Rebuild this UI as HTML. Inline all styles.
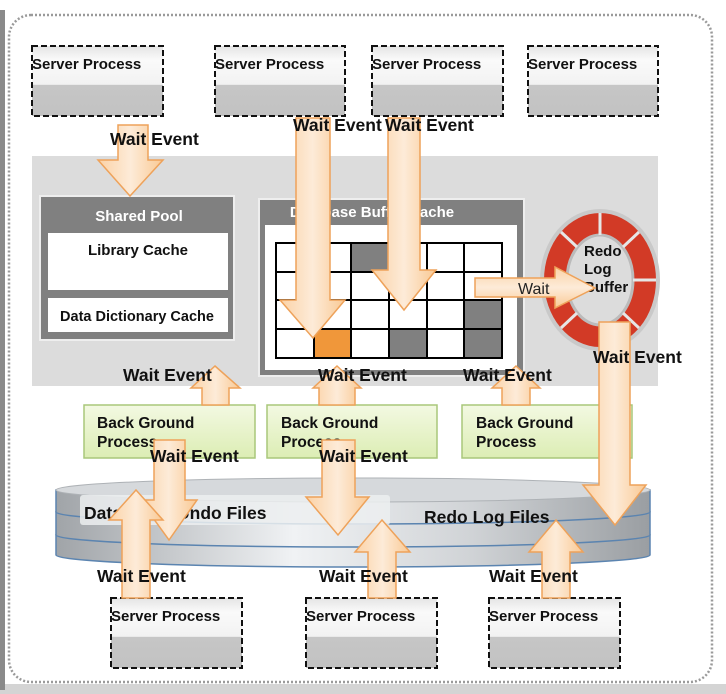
<!DOCTYPE html>
<html><head><meta charset="utf-8"><style>
html,body{margin:0;padding:0;background:#fff;}
svg{display:block;}
text{font-family:"Liberation Sans","Noto Sans CJK KR",sans-serif;}
.b{font-weight:bold;font-size:17.5px;fill:#111;}
.s{font-weight:bold;font-size:15px;fill:#111;}
</style></head><body>
<svg width="726" height="694" viewBox="0 0 726 694" xmlns="http://www.w3.org/2000/svg">
<defs>
<linearGradient id="sp" x1="0" y1="0" x2="0" y2="1">
<stop offset="0" stop-color="#e4e4e4"/><stop offset="0.2" stop-color="#fafafa"/><stop offset="0.55" stop-color="#f2f2f2"/><stop offset="0.56" stop-color="#c6c6c6"/><stop offset="1" stop-color="#c2c2c2"/></linearGradient>
<linearGradient id="ar" x1="0" y1="0" x2="1" y2="0">
<stop offset="0" stop-color="#fbd2a6"/><stop offset="0.5" stop-color="#fdebd8"/><stop offset="1" stop-color="#f9c994"/></linearGradient>
<linearGradient id="ar2" x1="0" y1="0" x2="0" y2="1">
<stop offset="0" stop-color="#fbd2a6"/><stop offset="0.5" stop-color="#fdebd8"/><stop offset="1" stop-color="#f9c994"/></linearGradient>
<linearGradient id="dkh" x1="0" y1="0" x2="1" y2="0">
<stop offset="0" stop-color="#a0a4a8"/><stop offset="0.4" stop-color="#f0f2f4"/><stop offset="0.7" stop-color="#d0d3d6"/><stop offset="1" stop-color="#9a9ea2"/></linearGradient>
<linearGradient id="bg" x1="0" y1="0" x2="0" y2="1">
<stop offset="0" stop-color="#f3f9e2"/><stop offset="1" stop-color="#dcedb4"/></linearGradient>
</defs>
<rect x="0" y="0" width="726" height="694" fill="#fff"/>
<rect x="0" y="684" width="726" height="10" fill="#d4d4d4"/>
<rect x="0" y="10" width="5" height="680" fill="#8a8a8a"/>
<rect x="9" y="15" width="703" height="667" rx="22" fill="none" stroke="#9a9a9a" stroke-width="2.5" stroke-dasharray="2 2"/>

<g stroke="#111" stroke-width="2" stroke-dasharray="6 3">
<rect x="32" y="46" width="131" height="70" fill="url(#sp)"/>
<rect x="215" y="46" width="130" height="70" fill="url(#sp)"/>
<rect x="372" y="46" width="131" height="70" fill="url(#sp)"/>
<rect x="528" y="46" width="130" height="70" fill="url(#sp)"/>
</g>
<text class="s" x="32" y="69">Server Process</text>
<text class="s" x="215" y="69">Server Process</text>
<text class="s" x="372" y="69">Server Process</text>
<text class="s" x="528" y="69">Server Process</text>

<rect x="32" y="156" width="626" height="230" fill="#dcdcdc"/>
<rect x="40" y="196" width="194" height="144" fill="#808080" stroke="#eee" stroke-width="2"/>
<text x="139" y="221" text-anchor="middle" font-weight="bold" font-size="15" fill="#fff">Shared Pool</text>
<rect x="48" y="233" width="180" height="57" fill="#fff"/>
<text x="138" y="255" text-anchor="middle" font-weight="bold" font-size="15" fill="#111">Library Cache</text>
<rect x="48" y="298" width="180" height="34" fill="#fff"/>
<text x="137" y="321" text-anchor="middle" font-weight="bold" font-size="14.5" fill="#111">Data Dictionary Cache</text>

<rect x="259" y="199" width="265" height="177" fill="#808080" stroke="#eee" stroke-width="2"/>
<text x="372" y="217" text-anchor="middle" font-weight="bold" font-size="15" fill="#fff">Database Buffer Cache</text>
<rect x="265" y="225" width="252" height="145" fill="#fff"/>
<rect x="351" y="243" width="38" height="29" fill="#808080"/>
<rect x="464" y="300" width="38" height="29" fill="#808080"/>
<rect x="389" y="329" width="38" height="29" fill="#808080"/>
<rect x="464" y="329" width="38" height="29" fill="#808080"/>
<rect x="314" y="329" width="37" height="29" fill="#f0973a"/>
<g stroke="#000" stroke-width="2" fill="none">
<rect x="276" y="243" width="226" height="115"/>
<line x1="314" y1="243" x2="314" y2="358"/><line x1="351" y1="243" x2="351" y2="358"/>
<line x1="389" y1="243" x2="389" y2="358"/><line x1="427" y1="243" x2="427" y2="358"/>
<line x1="464" y1="243" x2="464" y2="358"/>
<line x1="276" y1="272" x2="502" y2="272"/><line x1="276" y1="300" x2="502" y2="300"/>
<line x1="276" y1="329" x2="502" y2="329"/>
</g>

<ellipse cx="600" cy="280" rx="60" ry="71" fill="#c9c9c9"/>
<ellipse cx="600" cy="280" rx="56" ry="67" fill="#d23a26"/>
<ellipse cx="600" cy="280" rx="33" ry="45" fill="#dcdcdc" stroke="#bbb" stroke-width="3"/>
<g stroke="#e6e6e6" stroke-width="3">
<line x1="600" y1="213" x2="600" y2="235"/><line x1="600" y1="325" x2="600" y2="347"/>
<line x1="544" y1="280" x2="567" y2="280"/><line x1="633" y1="280" x2="656" y2="280"/>
<line x1="561" y1="232" x2="577" y2="247"/><line x1="639" y1="232" x2="623" y2="247"/>
<line x1="561" y1="328" x2="577" y2="313"/><line x1="639" y1="328" x2="623" y2="313"/>
</g>
<text x="584" y="256" font-weight="bold" font-size="15" fill="#111">Redo</text>
<text x="584" y="274" font-weight="bold" font-size="15" fill="#111">Log</text>
<text x="584" y="292" font-weight="bold" font-size="15" fill="#111">Buffer</text>

<g stroke="#a9c77a" stroke-width="1.5" fill="url(#bg)">
<rect x="84" y="405" width="171" height="53"/>
<rect x="267" y="405" width="170" height="53"/>
<rect x="462" y="405" width="170" height="53"/>
</g>
<g font-weight="bold" font-size="15.5" fill="#111">
<text x="97" y="428">Back Ground</text><text x="97" y="447">Process</text>
<text x="281" y="428">Back Ground</text><text x="281" y="447">Process</text>
<text x="476" y="428">Back Ground</text><text x="476" y="447">Process</text>
</g>

<g stroke="#5b84b0" stroke-width="1.5">
<path d="M56 535 L56 555 A297 12 0 0 0 650 555 L650 535 Z" fill="url(#dkh)"/>
<path d="M56 512 L56 535 A297 12 0 0 0 650 535 L650 512 Z" fill="url(#dkh)"/>
<path d="M56 490 L56 512 A297 12 0 0 0 650 512 L650 490 Z" fill="url(#dkh)"/>
</g>
<ellipse cx="353" cy="490" rx="297" ry="12" fill="#d6d9dc" stroke="#aeb2b6"/>
<rect x="80" y="495" width="310" height="30" rx="3" fill="#eceef0" opacity="0.85"/>
<text class="b" x="84" y="519">Data/Temp/Undo Files</text>
<text class="b" x="424" y="523">Redo Log Files</text>

<g stroke="#111" stroke-width="2" stroke-dasharray="6 3">
<rect x="111" y="598" width="131" height="70" fill="url(#sp)"/>
<rect x="306" y="598" width="131" height="70" fill="url(#sp)"/>
<rect x="489" y="598" width="131" height="70" fill="url(#sp)"/>
</g>
<text class="s" x="111" y="621">Server Process</text>
<text class="s" x="306" y="621">Server Process</text>
<text class="s" x="489" y="621">Server Process</text>

<g stroke="#eea25a" stroke-width="1.5" fill="url(#ar)">
<polygon points="118,125 148,125 148,160 163,160 130,196 98,160 118,160"/>
<polygon points="296,118 330,118 330,300 345,300 313,338 280,300 296,300"/>
<polygon points="388,118 420,118 420,270 436,270 404,310 372,270 388,270"/>
<polygon points="599,322 630,322 630,485 646,485 615,525 583,485 599,485"/>
<polygon points="154,440 185,440 185,500 197,500 169,540 140,500 154,500"/>
<polygon points="322,440 355,440 355,497 369,497 338,535 306,497 322,497"/>
<polygon points="215,366 240,388 229,388 229,405 202,405 202,388 191,388"/>
<polygon points="337,366 361,388 355,388 355,405 319,405 319,388 313,388"/>
<polygon points="516,366 540,388 530,388 530,405 502,405 502,388 492,388"/>
<polygon points="136,490 163,520 150,520 150,598 122,598 122,520 109,520"/>
<polygon points="382,520 410,552 396,552 396,598 368,598 368,552 355,552"/>
<polygon points="556,520 583,552 570,552 570,598 542,598 542,552 529,552"/>
</g>
<polygon points="475,278 555,278 555,267 595,288 555,308 555,297 475,297" fill="url(#ar2)" stroke="#eea25a" stroke-width="1.5"/>
<text x="518" y="294" font-size="16" fill="#222">Wait</text>

<text class="b" x="110" y="145">Wait Event</text>
<text class="b" x="293" y="131">Wait Event</text>
<text class="b" x="385" y="131">Wait Event</text>
<text class="b" x="123" y="381">Wait Event</text>
<text class="b" x="318" y="381">Wait Event</text>
<text class="b" x="463" y="381">Wait Event</text>
<text class="b" x="593" y="363">Wait Event</text>
<text class="b" x="150" y="462">Wait Event</text>
<text class="b" x="319" y="462">Wait Event</text>
<text class="b" x="97" y="582">Wait Event</text>
<text class="b" x="319" y="582">Wait Event</text>
<text class="b" x="489" y="582">Wait Event</text>
</svg>
</body></html>
